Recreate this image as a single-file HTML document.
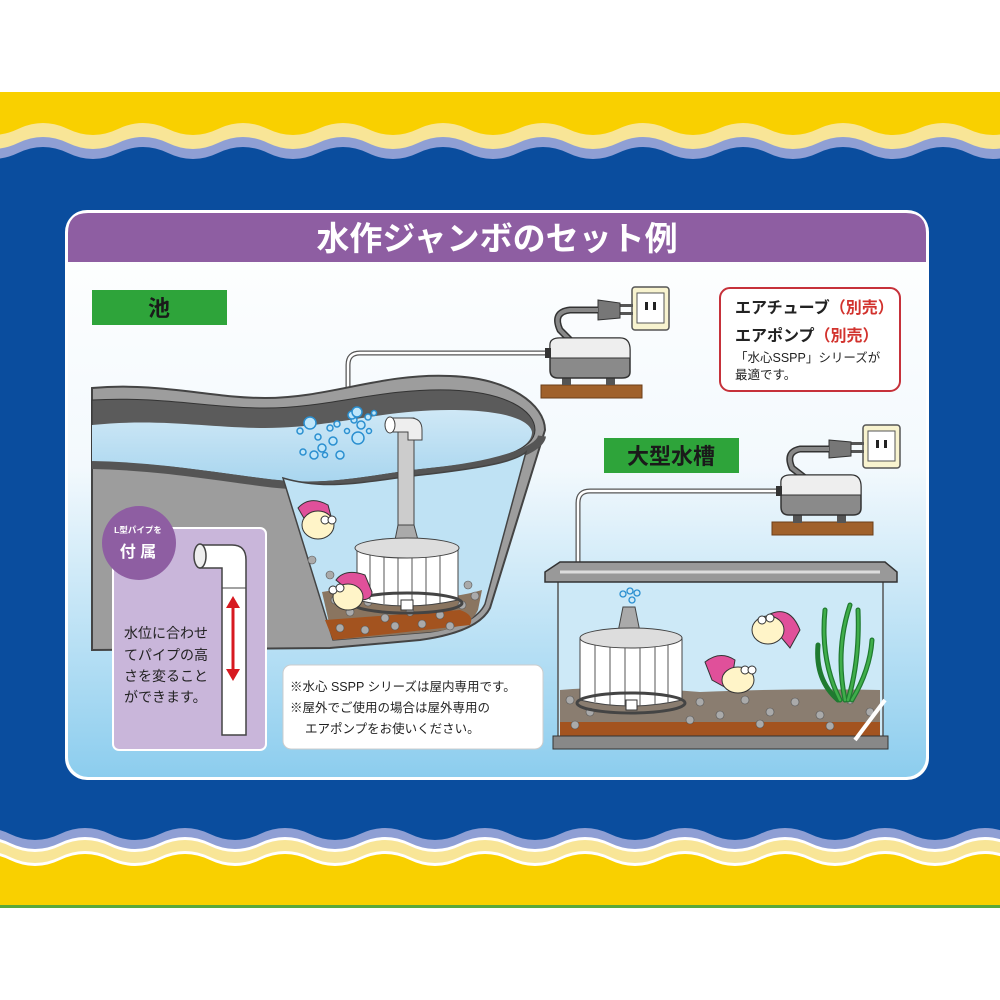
<!DOCTYPE html>
<html><head><meta charset="utf-8"><style>
html,body{margin:0;padding:0;background:#fff;}
svg{display:block;}
text{font-family:"Liberation Sans","Noto Sans CJK JP",sans-serif;}
</style></head><body>
<svg width="1000" height="1000" viewBox="0 0 1000 1000" xmlns="http://www.w3.org/2000/svg" xmlns:xlink="http://www.w3.org/1999/xlink">
<defs>
<linearGradient id="pg" x1="0" y1="0" x2="0" y2="1">
<stop offset="0" stop-color="#ffffff"/><stop offset="0.45" stop-color="#f3f9fd"/><stop offset="1" stop-color="#8ccdee"/>
</linearGradient>
<linearGradient id="wg" x1="0" y1="0" x2="0" y2="1">
<stop offset="0" stop-color="#cfe8f6"/><stop offset="1" stop-color="#a9d6ef"/>
</linearGradient>
<path id="wu" d="M-82,0 Q-57,-12 -32,0 T18,0 T68,0 T118,0 T168,0 T218,0 T268,0 T318,0 T368,0 T418,0 T468,0 T518,0 T568,0 T618,0 T668,0 T718,0 T768,0 T818,0 T868,0 T918,0 T968,0 T1018,0 T1068,0 T1118,0 L1118,-100 L-82,-100Z"/>
<path id="wd" d="M-82,0 Q-57,-12 -32,0 T18,0 T68,0 T118,0 T168,0 T218,0 T268,0 T318,0 T368,0 T418,0 T468,0 T518,0 T568,0 T618,0 T668,0 T718,0 T768,0 T818,0 T868,0 T918,0 T968,0 T1018,0 T1068,0 T1118,0 L1118,80 L-82,80Z"/>
</defs>
<rect x="0" y="0" width="1000" height="1000" fill="#fff"/>
<rect x="0" y="92" width="1000" height="780" fill="#0a4d9e"/>
<!-- top waves -->
<use xlink:href="#wu" y="153" fill="#8f9fd4"/>
<use xlink:href="#wu" y="143" fill="#f8e597"/>
<use xlink:href="#wu" y="129" fill="#f9d000"/>
<rect x="0" y="0" width="1000" height="92" fill="#fff"/>
<!-- bottom waves -->
<use xlink:href="#wd" x="42" y="834" fill="#8f9fd4"/>
<use xlink:href="#wd" x="42" y="843" fill="#fff"/>
<use xlink:href="#wd" x="42" y="846" fill="#f8e597"/>
<use xlink:href="#wd" x="42" y="857" fill="#fff"/>
<use xlink:href="#wd" x="42" y="860" fill="#f9d000"/>
<rect x="0" y="905" width="1000" height="3" fill="#5aa83a"/>
<rect x="0" y="908" width="1000" height="92" fill="#fff"/>

<!-- panel -->
<rect x="65" y="210" width="864" height="570" rx="22" fill="#fff"/>
<rect x="68" y="213" width="858" height="564" rx="20" fill="url(#pg)"/>
<path d="M68,262 L68,233 Q68,213 88,213 L906,213 Q926,213 926,233 L926,262Z" fill="#8e5ea2"/>
<text x="497" y="250" font-size="33" font-weight="bold" fill="#fff" text-anchor="middle">水作ジャンボのセット例</text>

<!-- labels -->
<rect x="92" y="290" width="135" height="35" fill="#2ea43a"/>
<text x="159" y="316" font-size="22" font-weight="bold" fill="#1a1a1a" text-anchor="middle">池</text>
<rect x="604" y="438" width="135" height="35" fill="#2ea43a"/>
<text x="671" y="464" font-size="22" font-weight="bold" fill="#1a1a1a" text-anchor="middle">大型水槽</text>

<rect x="720" y="288" width="180" height="103" rx="10" fill="#fff" stroke="#c6313a" stroke-width="2"/>
<text x="735" y="313" font-size="16" font-weight="bold" fill="#222">エアチューブ<tspan fill="#d2322d">（別売）</tspan></text>
<text x="735" y="341" font-size="16" font-weight="bold" fill="#222">エアポンプ<tspan fill="#d2322d">（別売）</tspan></text>
<text x="735" y="362" font-size="12.5" fill="#222">「水心SSPP」シリーズが</text>
<text x="735" y="379" font-size="12.5" fill="#222">最適です。</text>

<!-- pump 1 -->
<rect x="632" y="287" width="37" height="43" rx="3" fill="#f8f3cf" stroke="#555" stroke-width="1.5"/>
<rect x="637" y="293" width="27" height="30" fill="#fff" stroke="#555"/>
<rect x="645" y="302" width="3" height="8" fill="#222"/><rect x="653" y="302" width="3" height="8" fill="#222"/>
<rect x="620" y="304" width="13" height="3" fill="#555"/><rect x="620" y="312" width="13" height="3" fill="#555"/>
<path d="M598,300 L620,303 L620,318 L598,320Z" fill="#777" stroke="#333"/>
<path d="M598,310 L570,310 Q552,312 560,330 L570,340" fill="none" stroke="#333" stroke-width="7"/>
<path d="M598,310 L570,310 Q552,312 560,330 L570,340" fill="none" stroke="#888" stroke-width="4"/>
<rect x="541" y="385" width="101" height="13" fill="#a0612b" stroke="#6b3e18"/>
<rect x="562" y="375" width="9" height="10" fill="#555"/><rect x="606" y="375" width="9" height="10" fill="#555"/>
<path d="M550,345 Q550,338 560,338 L620,338 Q630,338 630,350 L630,372 Q630,378 622,378 L558,378 Q550,378 550,370Z" fill="#8a8a8a" stroke="#333" stroke-width="1.5"/>
<path d="M550,345 Q550,338 560,338 L620,338 Q630,338 630,350 L630,358 L550,358Z" fill="#eee" stroke="#333" stroke-width="1"/>
<rect x="545" y="348" width="6" height="10" fill="#333"/>
<path d="M545,353 L360,353 Q348,353 348,365 L348,425" fill="none" stroke="#555" stroke-width="5"/>
<path d="M545,353 L360,353 Q348,353 348,365 L348,425" fill="none" stroke="#fff" stroke-width="2.5"/>

<!-- pond -->
<path d="M92,388 C160,382 210,398 265,398 C330,398 380,373 450,376 C510,378 545,405 545,430 L490,608 Q478,632 420,640 L330,648 L92,650Z" fill="#9d9d9d" stroke="#444" stroke-width="2"/>
<path d="M92,400 C160,396 210,408 265,408 C330,408 380,388 450,390 C505,392 535,410 535,430 C535,452 490,462 430,468 C370,474 330,488 260,478 C200,470 150,462 92,462Z" fill="#5b5b5b" stroke="#333"/>
<path d="M92,425 C160,418 210,428 265,428 C330,428 380,410 450,410 C505,410 530,420 532,432 C532,452 490,462 430,468 C370,474 330,488 260,478 C200,470 150,462 92,462Z" fill="url(#wg)"/>
<path d="M92,465 C150,466 200,474 260,482 C330,492 370,478 430,472 C490,466 540,452 542,436" fill="none" stroke="#555" stroke-width="8"/>
<path d="M283,478 C330,492 370,480 430,474 C480,468 515,462 526,452 L485,604 Q475,625 430,632 L333,640Z" fill="#bfe2f4" stroke="#444" stroke-width="1.5"/>
<path d="M322,592 Q360,585 400,598 Q450,600 482,590 L478,610 Q470,628 430,632 L333,640Z" fill="#8a7560"/>
<path d="M325,620 L460,610 Q475,615 470,625 L333,640Z" fill="#a3531f"/>
<g fill="#aaa" stroke="#555" stroke-width="0.6">
<circle cx="335" cy="600" r="4"/><circle cx="350" cy="612" r="4"/><circle cx="368" cy="602" r="4"/><circle cx="385" cy="618" r="4"/><circle cx="410" cy="612" r="4"/><circle cx="440" cy="615" r="4"/><circle cx="462" cy="605" r="4"/><circle cx="475" cy="596" r="4"/><circle cx="340" cy="628" r="4"/><circle cx="365" cy="630" r="4"/><circle cx="395" cy="626" r="4"/><circle cx="422" cy="624" r="4"/><circle cx="450" cy="626" r="4"/><circle cx="330" cy="575" r="4"/><circle cx="312" cy="560" r="4"/><circle cx="468" cy="585" r="4"/>
</g>
<rect x="398" y="418" width="16" height="110" fill="#ccc" stroke="#444"/>
<path d="M390,418 L410,418 Q422,418 422,430 L422,440 L408,440 L408,432 L390,432Z" fill="#eee" stroke="#444"/>
<ellipse cx="390" cy="425" rx="5" ry="8" fill="#fff" stroke="#444"/>
<path d="M398,525 L395,540 L418,540 L414,525Z" fill="#aaa" stroke="#444"/>
<path d="M357,548 L357,600 Q405,612 458,600 L458,548Z" fill="#fff" stroke="#444"/>
<g stroke="#555" stroke-width="1"><line x1="370" y1="552" x2="370" y2="600"/><line x1="384" y1="555" x2="384" y2="604"/><line x1="398" y1="556" x2="398" y2="606"/><line x1="412" y1="556" x2="412" y2="606"/><line x1="426" y1="556" x2="426" y2="605"/><line x1="440" y1="554" x2="440" y2="603"/></g>
<ellipse cx="407" cy="548" rx="52" ry="10" fill="#ddd" stroke="#444"/>
<ellipse cx="407" cy="603" rx="55" ry="10" fill="none" stroke="#444" stroke-width="3"/>
<rect x="401" y="600" width="12" height="10" fill="#fff" stroke="#333"/>
<g fill="#bfe6fa" stroke="#2a8fd0" stroke-width="1.5">
<circle cx="300" cy="431" r="3"/><circle cx="310" cy="423" r="6"/><circle cx="318" cy="437" r="3"/><circle cx="322" cy="448" r="4"/><circle cx="330" cy="428" r="3"/><circle cx="333" cy="441" r="4"/><circle cx="340" cy="455" r="4"/><circle cx="337" cy="424" r="3"/><circle cx="354" cy="420" r="3"/><circle cx="358" cy="438" r="6"/><circle cx="352" cy="415" r="4"/><circle cx="361" cy="425" r="4"/><circle cx="368" cy="417" r="3"/><circle cx="374" cy="413" r="2.5"/><circle cx="357" cy="412" r="5"/><circle cx="303" cy="452" r="3"/><circle cx="314" cy="455" r="4"/><circle cx="325" cy="455" r="2.5"/><circle cx="347" cy="431" r="2.5"/><circle cx="369" cy="431" r="2.5"/>
</g>
<g stroke="#333" stroke-width="1">
<path d="M298,508 Q310,495 328,505 L332,520 L305,520Z" fill="#e0509a"/>
<ellipse cx="318" cy="525" rx="16" ry="14" fill="#fff4c8"/>
<circle cx="325" cy="520" r="4" fill="#fff"/><circle cx="332" cy="520" r="4" fill="#fff"/>
<path d="M336,580 Q345,568 365,575 L372,592 Q372,600 360,600Z" fill="#e0509a"/>
<ellipse cx="348" cy="597" rx="15" ry="13" fill="#fff4c8"/>
<circle cx="333" cy="590" r="4" fill="#fff"/><circle cx="340" cy="588" r="4" fill="#fff"/>
</g>

<!-- inset box -->
<rect x="113" y="528" width="153" height="222" rx="6" fill="#c9b6da" stroke="#fff" stroke-width="2"/>
<circle cx="139" cy="543" r="37" fill="#8e5ea2"/>
<text x="138" y="533" font-size="8.5" font-weight="bold" fill="#fff" text-anchor="middle">L型パイプを</text>
<text x="138" y="557" font-size="16" font-weight="bold" fill="#fff" text-anchor="middle">付 属</text>
<path d="M200,545 L232,545 Q246,545 246,560 L246,735 L222,735 L222,568 L200,568Z" fill="#fff" stroke="#444" stroke-width="1.5"/>
<ellipse cx="200" cy="556" rx="6" ry="12" fill="#eee" stroke="#444" stroke-width="1.5"/>
<line x1="222" y1="588" x2="246" y2="588" stroke="#444"/>
<line x1="233" y1="605" x2="233" y2="672" stroke="#d71920" stroke-width="3"/>
<path d="M226,608 L233,596 L240,608Z M226,669 L233,681 L240,669Z" fill="#d71920"/>
<text x="124" y="638" font-size="14" fill="#222">水位に合わせ</text>
<text x="124" y="660" font-size="14" fill="#222">てパイプの高</text>
<text x="124" y="681" font-size="14" fill="#222">さを変ること</text>
<text x="124" y="702" font-size="14" fill="#222">ができます。</text>

<!-- note -->
<rect x="283" y="665" width="260" height="84" rx="8" fill="#fff" stroke="#ccc"/>
<text x="290" y="691" font-size="12.5" fill="#222">※水心 SSPP シリーズは屋内専用です。</text>
<text x="290" y="712" font-size="12.5" fill="#222">※屋外でご使用の場合は屋外専用の</text>
<text x="305" y="733" font-size="12.5" fill="#222">エアポンプをお使いください。</text>

<!-- pump 2 -->
<rect x="863" y="425" width="37" height="43" rx="3" fill="#f8f3cf" stroke="#555" stroke-width="1.5"/>
<rect x="868" y="431" width="27" height="30" fill="#fff" stroke="#555"/>
<rect x="876" y="440" width="3" height="8" fill="#222"/><rect x="884" y="440" width="3" height="8" fill="#222"/>
<rect x="851" y="442" width="13" height="3" fill="#555"/><rect x="851" y="450" width="13" height="3" fill="#555"/>
<path d="M829,440 L851,442 L851,456 L829,458Z" fill="#777" stroke="#333"/>
<path d="M829,449 L800,449 Q785,452 792,468 L805,478" fill="none" stroke="#333" stroke-width="7"/>
<path d="M829,449 L800,449 Q785,452 792,468 L805,478" fill="none" stroke="#888" stroke-width="4"/>
<rect x="772" y="522" width="101" height="13" fill="#a0612b" stroke="#6b3e18"/>
<rect x="793" y="513" width="9" height="10" fill="#555"/><rect x="837" y="513" width="9" height="10" fill="#555"/>
<path d="M781,482 Q781,475 791,475 L851,475 Q861,475 861,487 L861,508 Q861,515 853,515 L789,515 Q781,515 781,507Z" fill="#8a8a8a" stroke="#333" stroke-width="1.5"/>
<path d="M781,482 Q781,475 791,475 L851,475 Q861,475 861,487 L861,495 L781,495Z" fill="#eee" stroke="#333" stroke-width="1"/>
<rect x="776" y="486" width="6" height="10" fill="#333"/>
<path d="M776,491 L590,491 Q578,491 578,503 L578,625" fill="none" stroke="#555" stroke-width="5"/>
<path d="M776,491 L590,491 Q578,491 578,503 L578,625" fill="none" stroke="#fff" stroke-width="2.5"/>

<!-- tank -->
<rect x="558" y="570" width="325" height="172" fill="#cde9f7" stroke="#555" stroke-width="1.5"/>
<path d="M560,690 Q620,685 700,692 Q800,688 880,690 L880,735 L560,735Z" fill="#8a7d70"/>
<rect x="560" y="722" width="320" height="14" fill="#a3531f"/>
<g fill="#aaa" stroke="#555" stroke-width="0.6">
<circle cx="570" cy="700" r="4"/><circle cx="590" cy="712" r="4"/><circle cx="700" cy="702" r="4"/><circle cx="720" cy="715" r="4"/><circle cx="745" cy="700" r="4"/><circle cx="770" cy="712" r="4"/><circle cx="795" cy="702" r="4"/><circle cx="820" cy="715" r="4"/><circle cx="850" cy="700" r="4"/><circle cx="870" cy="712" r="4"/><circle cx="690" cy="720" r="4"/><circle cx="760" cy="724" r="4"/><circle cx="830" cy="726" r="4"/><circle cx="575" cy="725" r="4"/>
</g>
<rect x="553" y="736" width="335" height="13" fill="#888" stroke="#333"/>
<path d="M545,572 L560,562 L885,562 L897,572 L897,582 L545,582Z" fill="#999" stroke="#333" stroke-width="1.5"/>
<path d="M560,572 L880,572" stroke="#ddd" stroke-width="3"/>
<line x1="855" y1="740" x2="885" y2="700" stroke="#fff" stroke-width="4"/>
<path d="M623,607 L618,632 L640,632 L635,607Z" fill="#aaa" stroke="#444"/>
<g fill="none" stroke="#2a8fd0" stroke-width="1.3"><circle cx="623" cy="594" r="3"/><circle cx="630" cy="591" r="3"/><circle cx="637" cy="593" r="3"/><circle cx="632" cy="600" r="3"/></g>
<path d="M580,638 L580,700 Q630,712 682,700 L682,638Z" fill="#fff" stroke="#444"/>
<g stroke="#555"><line x1="595" y1="645" x2="595" y2="702"/><line x1="610" y1="646" x2="610" y2="705"/><line x1="625" y1="646" x2="625" y2="706"/><line x1="640" y1="646" x2="640" y2="706"/><line x1="655" y1="646" x2="655" y2="705"/><line x1="668" y1="645" x2="668" y2="703"/></g>
<ellipse cx="631" cy="638" rx="51" ry="10" fill="#ddd" stroke="#444"/>
<ellipse cx="631" cy="703" rx="54" ry="10" fill="none" stroke="#444" stroke-width="3"/>
<rect x="626" y="700" width="11" height="10" fill="#fff" stroke="#333"/>
<g stroke="#333" stroke-width="1">
<path d="M770,614 Q790,605 800,630 L790,648 L775,630Z" fill="#e0509a"/>
<ellipse cx="768" cy="630" rx="16" ry="14" fill="#fff4c8"/>
<circle cx="762" cy="620" r="4" fill="#fff"/><circle cx="770" cy="618" r="4" fill="#fff"/>
<path d="M705,662 Q720,650 735,660 L730,690 L712,680Z" fill="#e0509a"/>
<ellipse cx="738" cy="680" rx="16" ry="13" fill="#fff4c8"/>
<circle cx="745" cy="670" r="4" fill="#fff"/><circle cx="752" cy="670" r="4" fill="#fff"/>
</g>
<g fill="none" stroke="#1f7a30" stroke-width="5" stroke-linecap="round">
<path d="M840,700 Q820,660 825,610"/><path d="M845,700 Q835,650 850,605"/><path d="M848,700 Q860,660 858,610"/><path d="M852,700 Q870,670 872,640"/><path d="M838,700 Q815,680 818,645"/>
</g>
<g fill="none" stroke="#3fae4a" stroke-width="2.5" stroke-linecap="round">
<path d="M840,700 Q820,660 825,610"/><path d="M845,700 Q835,650 850,605"/><path d="M848,700 Q860,660 858,610"/><path d="M852,700 Q870,670 872,640"/>
</g>
</svg>
</body></html>
